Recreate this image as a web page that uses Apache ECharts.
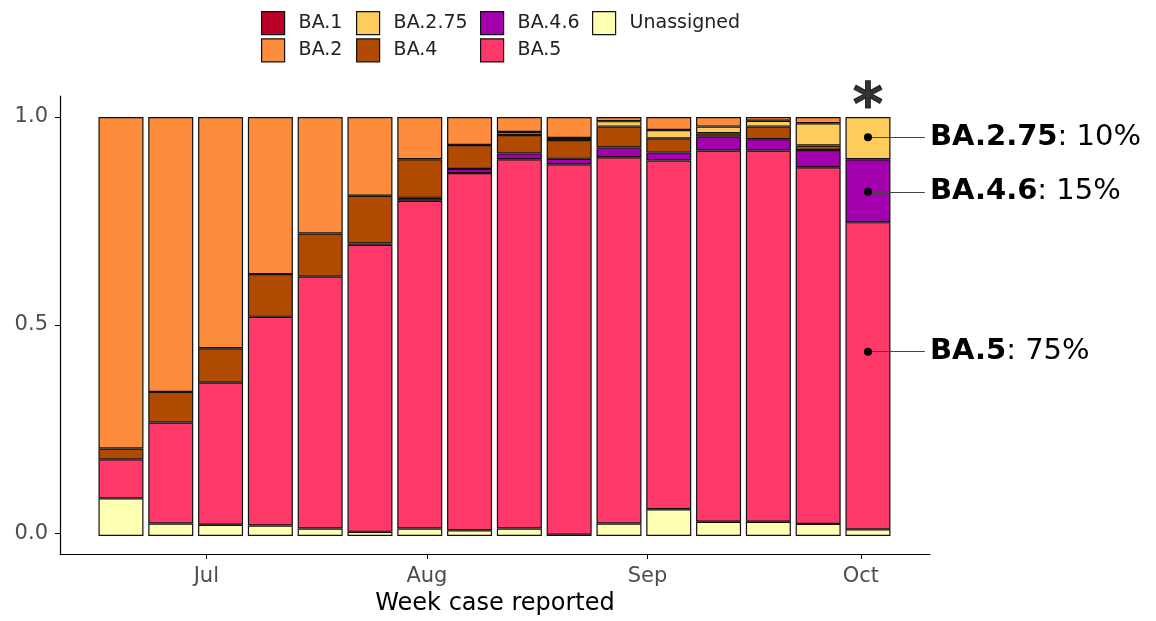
<!DOCTYPE html>
<html>
<head>
<meta charset="utf-8">
<script src="https://cdn.jsdelivr.net/npm/echarts@6/dist/echarts.min.js"></script>
<style>
  html, body { margin: 0; padding: 0; background: #fff; }
  #chart { width: 1156px; height: 621px; }
</style>
</head>
<body>
<div id="chart"></div>
<script>
// week start dates (one bar per week)
const weeks = ['2022-06-19', '2022-06-26', '2022-07-03', '2022-07-10', '2022-07-17', '2022-07-24',
  '2022-07-31', '2022-08-07', '2022-08-14', '2022-08-21', '2022-08-28', '2022-09-04',
  '2022-09-11', '2022-09-18', '2022-09-25', '2022-10-02']

// proportions per week, stacked bottom -> top
const unassigned = [0.090, 0.030, 0.027, 0.025, 0.018, 0.010, 0.018, 0.014, 0.018, 0.003, 0.030, 0.064, 0.034, 0.034, 0.029, 0.016]
const ba5 = [0.093, 0.241, 0.339, 0.498, 0.601, 0.685, 0.782, 0.852, 0.881, 0.884, 0.874, 0.832, 0.886, 0.886, 0.851, 0.733]
const ba46 = [0, 0, 0, 0, 0, 0.003, 0.007, 0.010, 0.014, 0.013, 0.023, 0.019, 0.033, 0.027, 0.041, 0.150]
const ba4 = [0.026, 0.073, 0.082, 0.102, 0.103, 0.114, 0.092, 0.057, 0.044, 0.045, 0.050, 0.034, 0.008, 0.030, 0.011, 0]
const ba275 = [0, 0, 0, 0, 0, 0, 0, 0, 0.007, 0.005, 0.013, 0.020, 0.016, 0.014, 0.053, 0.101]
const ba2 = [0.791, 0.656, 0.552, 0.375, 0.278, 0.188, 0.101, 0.067, 0.036, 0.050, 0.010, 0.031, 0.023, 0.009, 0.015, 0]
const ba1 = [0, 0, 0, 0, 0, 0, 0, 0, 0, 0, 0, 0, 0, 0, 0, 0]

// x axis month ticks
const monthTicks = ['2022-07-01', '2022-08-01', '2022-09-01', '2022-10-01']
const monthLabels = ['Jul', 'Aug', 'Sep', 'Oct']
const yTicks = [0, 0.5, 1.0]

// callouts on the latest week
const calloutNames = ['BA.2.75', 'BA.4.6', 'BA.5']
const calloutPct = ['10%', '15%', '75%']
const calloutY = [0.951, 0.820, 0.436]

const origin = Date.parse(weeks[0])
const dayOf = s => (Date.parse(s) - origin) / 864e5
const tickDays = monthTicks.map(dayOf)
const lastDay = dayOf(weeks[weeks.length - 1])

const variants = [
  { name: 'Unassigned', data: unassigned, color: '#FFFFB2' },
  { name: 'BA.5', data: ba5, color: '#FF386A' },
  { name: 'BA.4.6', data: ba46, color: '#A100AC' },
  { name: 'BA.4', data: ba4, color: '#B04A00' },
  { name: 'BA.2.75', data: ba275, color: '#FECC5C' },
  { name: 'BA.2', data: ba2, color: '#FD8D3C' },
  { name: 'BA.1', data: ba1, color: '#BD0026' }
]

const font = 'DejaVu Sans'

// date axis layout (grid 0); the bar grid (grid 1) is aligned to it, one week per band
const W = 1156
const plotLeft = 60, plotRight = 930, plotTop = 96, plotBottom = 64
const xMin = -8.57, xMax = 113.72
const pxPerDay = (plotRight - plotLeft) / (xMax - xMin)
const barLeft = plotLeft + (dayOf(weeks[0]) - 3.5 - xMin) * pxPerDay
const barRight = plotLeft + (lastDay + 3.5 - xMin) * pxPerDay

const chart = echarts.init(document.getElementById('chart'))

const barSeries = variants.map(v => ({
  name: v.name,
  type: 'bar',
  stack: 'total',
  xAxisIndex: 1,
  yAxisIndex: 1,
  barWidth: 45,
  itemStyle: { color: v.color, borderColor: '#111', borderWidth: 1.2 },
  data: v.data.map(x => (x > 0 ? x : null))
}))

const legendCols = [['BA.1', 'BA.2'], ['BA.2.75', 'BA.4'], ['BA.4.6', 'BA.5'], ['Unassigned']]
const legendLeft = [261, 356, 480, 592]

const option = {
  animation: false,
  textStyle: { fontFamily: font },
  legend: legendCols.map((cols, i) => ({
    data: cols,
    orient: 'vertical',
    left: legendLeft[i],
    top: 11,
    padding: 0,
    itemWidth: 23,
    itemHeight: 23,
    itemGap: 3,
    selectedMode: false,
    icon: 'rect',
    itemStyle: { borderColor: '#111', borderWidth: 1.2 },
    textStyle: { fontFamily: font, fontSize: 19, color: '#222', padding: [0, 0, 0, 9] }
  })),
  grid: [
    { left: plotLeft, right: W - plotRight, top: plotTop, bottom: plotBottom },
    { left: barLeft, right: W - barRight, top: plotTop, bottom: plotBottom }
  ],
  xAxis: [
    {
      type: 'value',
      gridIndex: 0,
      min: xMin,
      max: xMax,
      name: 'Week case reported',
      nameLocation: 'middle',
      nameGap: 38,
      nameTextStyle: { fontFamily: font, fontSize: 24, color: '#000' },
      splitLine: { show: false },
      axisLine: { onZero: false, lineStyle: { color: '#000', width: 1.2 } },
      axisTick: { length: 5, lineStyle: { color: '#000' }, customValues: tickDays },
      axisLabel: {
        customValues: tickDays,
        formatter: v => monthLabels[tickDays.indexOf(v)],
        fontFamily: font, fontSize: 21, color: '#4d4d4d', margin: 12
      }
    },
    {
      type: 'category',
      gridIndex: 1,
      data: weeks,
      show: false
    }
  ],
  yAxis: [
    {
      type: 'value',
      gridIndex: 0,
      min: -0.05,
      max: 1.05,
      splitLine: { show: false },
      axisLine: { show: true, onZero: false, lineStyle: { color: '#000', width: 1.2 } },
      axisTick: { show: true, length: 5, lineStyle: { color: '#000' }, customValues: yTicks },
      axisLabel: {
        customValues: yTicks,
        formatter: v => v.toFixed(1),
        fontFamily: font, fontSize: 21, color: '#4d4d4d', margin: 12
      }
    },
    {
      type: 'value',
      gridIndex: 1,
      min: -0.05,
      max: 1.05,
      show: false,
      splitLine: { show: false }
    }
  ],
  series: [
    ...barSeries,
    {
      name: 'callouts',
      type: 'scatter',
      symbol: 'circle',
      symbolSize: 8,
      itemStyle: { color: '#000', opacity: 1 },
      silent: true,
      z: 5,
      data: calloutY.map(y => [lastDay, y]),
      markLine: {
        silent: true,
        symbol: ['none', 'none'],
        lineStyle: { color: '#444', width: 1, type: 'solid' },
        label: {
          show: true,
          position: 'end',
          distance: 5,
          fontFamily: font,
          fontSize: 29,
          color: '#000',
          formatter: p => '{b|' + calloutNames[p.dataIndex] + '}: ' + calloutPct[p.dataIndex],
          rich: { b: { fontFamily: font, fontSize: 29, fontWeight: 'bold', color: '#000' } }
        },
        data: calloutY.map(y => [{ coord: [lastDay, y] }, { coord: [lastDay + 8, y] }])
      }
    },
    {
      name: 'star',
      type: 'scatter',
      symbolSize: 0,
      silent: true,
      data: [[lastDay, 1.0]],
      label: {
        show: true,
        position: 'top',
        distance: -21,
        formatter: '*',
        fontFamily: font,
        fontSize: 58,
        fontWeight: 'bold',
        color: '#000',
        textBorderColor: '#000',
        textBorderWidth: 1
      }
    }
  ]
}

chart.setOption(option)
window.addEventListener('resize', () => chart.resize())
</script>
</body>
</html>
